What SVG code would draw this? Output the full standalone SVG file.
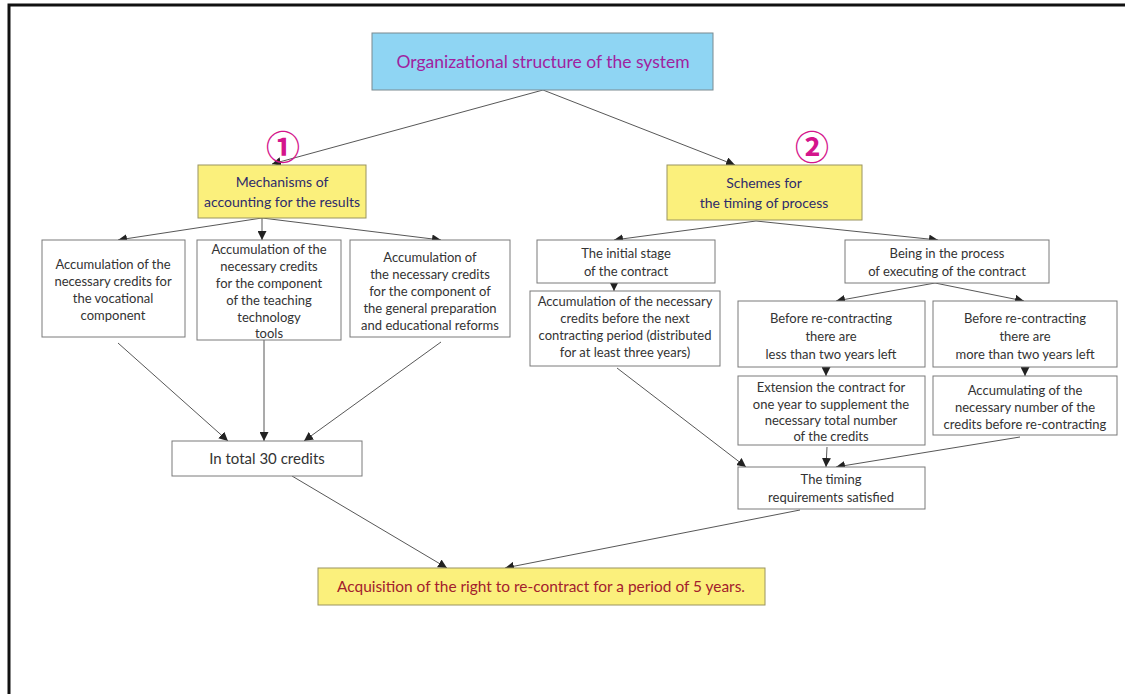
<svg xmlns="http://www.w3.org/2000/svg" width="1125" height="694" viewBox="0 0 1125 694">
<style>
  .frame { fill: none; stroke: #111; stroke-width: 3; }
  .box { fill: #fff; stroke: #7a7a7a; stroke-width: 1; }
  .yel { fill: #fbf07c; stroke: #9a9460; stroke-width: 1; }
  .blue { fill: #8fd5f3; stroke: #7a8a90; stroke-width: 1; }
  .t { font-family: Lato, "Open Sans", "Noto Sans", sans-serif; font-size: 13px; fill: #333; text-anchor: middle; }
  .tt { font-family: Lato, "Open Sans", sans-serif; font-size: 17px; fill: #a0229f; text-anchor: middle; }
  .ty { font-family: Lato, "Open Sans", sans-serif; font-size: 14px; fill: #2e2b6b; text-anchor: middle; }
  .tb { font-family: Lato, "Open Sans", sans-serif; font-size: 15px; fill: #a3202c; text-anchor: middle; }
  .num { font-family: "Noto Sans CJK JP", "DejaVu Sans", sans-serif; font-size: 34px; font-weight: 700; fill: #d4158c; text-anchor: middle; }
  .c line { stroke: #444; stroke-width: 0.9; marker-end: url(#ah); }
</style>
<defs>
  <marker id="ah" viewBox="0 0 10 10" refX="10" refY="5" markerWidth="9" markerHeight="9" markerUnits="userSpaceOnUse" orient="auto">
    <path d="M0,0 L10,5 L0,10 z" fill="#222"/>
  </marker>
</defs>
<rect width="1125" height="694" fill="#fff"/>
<path class="frame" d="M9,694 V5 H1125"/>

<g class="c" id="connectors">
  <line x1="543" y1="90" x2="272" y2="164"/>
  <line x1="543" y1="90" x2="735" y2="165"/>
  <line x1="262" y1="218" x2="118" y2="240"/>
  <line x1="262" y1="218" x2="262" y2="240"/>
  <line x1="262" y1="218" x2="441" y2="240"/>
  <line x1="118" y1="343" x2="228" y2="441"/>
  <line x1="264" y1="340" x2="264" y2="441"/>
  <line x1="441" y1="342" x2="304" y2="441"/>
  <line x1="292" y1="476" x2="447" y2="568"/>
  <line x1="756" y1="221" x2="614" y2="240"/>
  <line x1="756" y1="221" x2="938" y2="240"/>
  <line x1="614" y1="283" x2="614" y2="291"/>
  <line x1="617" y1="368" x2="746" y2="467"/>
  <line x1="935" y1="283" x2="836" y2="301"/>
  <line x1="935" y1="283" x2="1024" y2="301"/>
  <line x1="826" y1="367" x2="826" y2="376"/>
  <line x1="1025" y1="367" x2="1025" y2="376"/>
  <line x1="827" y1="447" x2="826" y2="467"/>
  <line x1="1020" y1="437" x2="836" y2="467"/>
  <line x1="800" y1="510" x2="505" y2="568"/>
</g>

<g id="title">
  <rect class="blue" x="372" y="33" width="341" height="57"/>
  <text class="tt" x="543" y="68" textLength="293" lengthAdjust="spacingAndGlyphs">Organizational structure of the system</text>
</g>

<g id="num1"><text class="num" x="283" y="160">①</text></g>
<g id="num2"><text class="num" x="812" y="160">②</text></g>

<g id="mechanisms">
  <rect class="yel" x="198" y="165" width="168" height="53"/>
  <text class="ty" x="282" y="187">Mechanisms of</text>
  <text class="ty" x="282" y="207">accounting for the results</text>
</g>

<g id="schemes">
  <rect class="yel" x="667" y="165" width="195" height="55"/>
  <text class="ty" x="764" y="188">Schemes for</text>
  <text class="ty" x="764" y="208">the timing of process</text>
</g>

<g id="boxA">
  <rect class="box" x="42" y="240" width="143" height="97"/>
  <text class="t" x="113" y="269">Accumulation of the</text>
  <text class="t" x="113" y="286">necessary credits for</text>
  <text class="t" x="113" y="303">the vocational</text>
  <text class="t" x="113" y="320">component</text>
</g>

<g id="boxB">
  <rect class="box" x="197" y="240" width="144" height="100"/>
  <text class="t" x="269" y="254">Accumulation of the</text>
  <text class="t" x="269" y="271">necessary credits</text>
  <text class="t" x="269" y="288">for the component</text>
  <text class="t" x="269" y="305">of the teaching</text>
  <text class="t" x="269" y="322">technology</text>
  <text class="t" x="269" y="338">tools</text>
</g>

<g id="boxC">
  <rect class="box" x="350" y="240" width="160" height="97"/>
  <text class="t" x="430" y="262">Accumulation of</text>
  <text class="t" x="430" y="279">the necessary credits</text>
  <text class="t" x="430" y="296">for the component of</text>
  <text class="t" x="430" y="313">the general preparation</text>
  <text class="t" x="430" y="330">and educational reforms</text>
</g>

<g id="total">
  <rect class="box" x="172" y="441" width="190" height="35"/>
  <text class="t" x="267" y="464" style="font-size:15px">In total 30 credits</text>
</g>

<g id="initial">
  <rect class="box" x="537" y="240" width="178" height="43"/>
  <text class="t" x="626" y="258">The initial stage</text>
  <text class="t" x="626" y="276">of the contract</text>
</g>

<g id="accnext">
  <rect class="box" x="530" y="291" width="190" height="75"/>
  <text class="t" x="625" y="306">Accumulation of the necessary</text>
  <text class="t" x="625" y="323">credits before the next</text>
  <text class="t" x="625" y="340">contracting period (distributed</text>
  <text class="t" x="625" y="357">for at least three years)</text>
</g>

<g id="being">
  <rect class="box" x="845" y="240" width="204" height="43"/>
  <text class="t" x="947" y="258">Being in the process</text>
  <text class="t" x="947" y="276">of executing of the contract</text>
</g>

<g id="less">
  <rect class="box" x="738" y="301" width="187" height="66"/>
  <text class="t" x="831" y="323">Before re-contracting</text>
  <text class="t" x="831" y="341">there are</text>
  <text class="t" x="831" y="359">less than two years left</text>
</g>

<g id="more">
  <rect class="box" x="933" y="301" width="184" height="66"/>
  <text class="t" x="1025" y="323">Before re-contracting</text>
  <text class="t" x="1025" y="341">there are</text>
  <text class="t" x="1025" y="359">more than two years left</text>
</g>

<g id="extension">
  <rect class="box" x="738" y="376" width="187" height="69"/>
  <text class="t" x="831" y="392">Extension the contract for</text>
  <text class="t" x="831" y="409">one year to supplement the</text>
  <text class="t" x="831" y="425">necessary total number</text>
  <text class="t" x="831" y="441">of the credits</text>
</g>

<g id="accumulating">
  <rect class="box" x="933" y="376" width="184" height="59"/>
  <text class="t" x="1025" y="395">Accumulating of the</text>
  <text class="t" x="1025" y="412">necessary number of the</text>
  <text class="t" x="1025" y="429">credits before re-contracting</text>
</g>

<g id="timing">
  <rect class="box" x="738" y="467" width="187" height="42"/>
  <text class="t" x="831" y="484">The timing</text>
  <text class="t" x="831" y="502">requirements satisfied</text>
</g>

<g id="acquisition">
  <rect class="yel" x="318" y="568" width="447" height="37"/>
  <text class="tb" x="541" y="592" textLength="408" lengthAdjust="spacingAndGlyphs">Acquisition of the right to re-contract for a period of 5 years.</text>
</g>
</svg>
